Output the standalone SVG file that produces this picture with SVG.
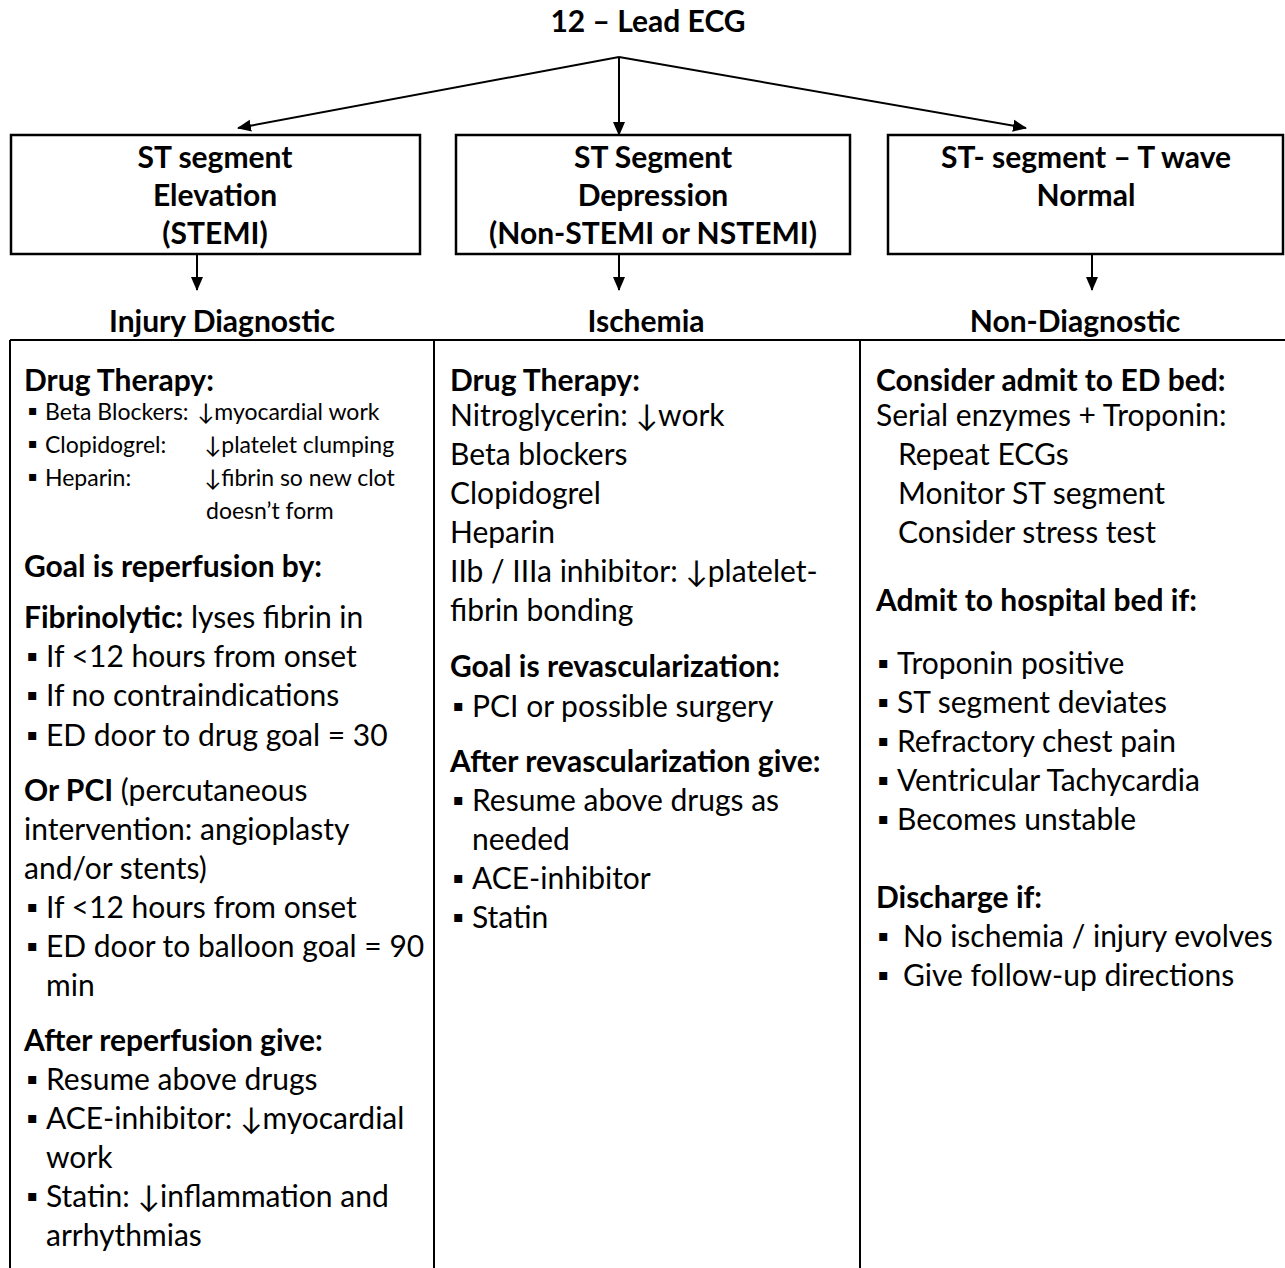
<svg xmlns="http://www.w3.org/2000/svg" width="1285" height="1268" viewBox="0 0 1285 1268">
<style>
text{font-family:Lato,"Liberation Sans",sans-serif;fill:#000;font-size:30px}
.b{font-weight:bold}
.c{text-anchor:middle}
.s{font-size:23px}
.bul{font-family:"DejaVu Sans",sans-serif;font-size:16px}
.bs{font-family:"DejaVu Sans",sans-serif;font-size:14px}
.box{fill:#fff;stroke:#000;stroke-width:2.5}
.ln{stroke:#000;stroke-width:2;fill:none}
</style>
<defs>
<marker id="ah" markerUnits="userSpaceOnUse" markerWidth="14" markerHeight="14" viewBox="0 0 14 14" refX="13" refY="7" orient="auto">
<path d="M0,1 L14,7 L0,13 Z" fill="#000"/>
</marker>
</defs>
<rect width="1285" height="1268" fill="#fff"/>

<g id="title"><text class="b c" x="648" y="32">12 – Lead ECG</text></g>

<g id="connectors">
<line class="ln" x1="619" y1="57" x2="238" y2="128" marker-end="url(#ah)"/>
<line class="ln" x1="619" y1="57" x2="619" y2="135" marker-end="url(#ah)"/>
<line class="ln" x1="619" y1="57" x2="1026" y2="128" marker-end="url(#ah)"/>
<line class="ln" x1="197" y1="255" x2="197" y2="290" marker-end="url(#ah)"/>
<line class="ln" x1="619" y1="255" x2="619" y2="290" marker-end="url(#ah)"/>
<line class="ln" x1="1092" y1="255" x2="1092" y2="290" marker-end="url(#ah)"/>
</g>

<g id="box-stemi">
<rect class="box" x="11" y="135" width="409" height="119"/>
<text class="b c" x="215" y="168">ST segment</text>
<text class="b c" x="215" y="206">Elevation</text>
<text class="b c" x="215" y="244">(STEMI)</text>
</g>
<g id="box-nstemi">
<rect class="box" x="456" y="135" width="394" height="119"/>
<text class="b c" x="653" y="168">ST Segment</text>
<text class="b c" x="653" y="206">Depression</text>
<text class="b c" x="653" y="244">(Non-STEMI or NSTEMI)</text>
</g>
<g id="box-normal">
<rect class="box" x="888" y="135" width="395" height="119"/>
<text class="b c" x="1086" y="168">ST- segment – T wave</text>
<text class="b c" x="1086" y="206">Normal</text>
</g>

<g id="label-injury"><text class="b c" x="222" y="332">Injury Diagnostic</text></g>
<g id="label-ischemia"><text class="b c" x="646" y="332">Ischemia</text></g>
<g id="label-nondiag"><text class="b c" x="1075" y="332">Non-Diagnostic</text></g>

<g id="table">
<line class="ln" x1="10" y1="340" x2="1285" y2="340"/>
<line class="ln" x1="10" y1="340" x2="10" y2="1268"/>
<line class="ln" x1="434" y1="340" x2="434" y2="1268"/>
<line class="ln" x1="860" y1="340" x2="860" y2="1268"/>
</g>

<g id="col-injury">
<text class="b" x="24" y="391">Drug Therapy:</text>
<text class="bs" x="28" y="415">▪</text><text class="s" x="45" y="420">Beta Blockers:</text><text class="s" x="197" y="420">↓myocardial work</text>
<text class="bs" x="28" y="448">▪</text><text class="s" x="45" y="453">Clopidogrel:</text><text class="s" x="204" y="453">↓platelet clumping</text>
<text class="bs" x="28" y="481">▪</text><text class="s" x="45" y="486">Heparin:</text><text class="s" x="204" y="486">↓fibrin so new clot</text>
<text class="s" x="206" y="519">doesn’t form</text>
<text class="b" x="24" y="577">Goal is reperfusion by:</text>
<text x="24" y="628"><tspan class="b">Fibrinolytic:</tspan> lyses fibrin in</text>
<text class="bul" x="27" y="661">▪</text><text x="46" y="667">If &lt;12 hours from onset</text>
<text class="bul" x="27" y="700">▪</text><text x="46" y="706">If no contraindications</text>
<text class="bul" x="27" y="740">▪</text><text x="46" y="746">ED door to drug goal = 30</text>
<text x="24" y="801"><tspan class="b">Or PCI</tspan> (percutaneous</text>
<text x="24" y="840">intervention: angioplasty</text>
<text x="24" y="879">and/or stents)</text>
<text class="bul" x="27" y="912">▪</text><text x="46" y="918">If &lt;12 hours from onset</text>
<text class="bul" x="27" y="951">▪</text><text x="46" y="957">ED door to balloon goal = 90</text>
<text x="46" y="996">min</text>
<text class="b" x="24" y="1051">After reperfusion give:</text>
<text class="bul" x="27" y="1084">▪</text><text x="46" y="1090">Resume above drugs</text>
<text class="bul" x="27" y="1123">▪</text><text x="46" y="1129">ACE-inhibitor: ↓myocardial</text>
<text x="46" y="1168">work</text>
<text class="bul" x="27" y="1201">▪</text><text x="46" y="1207">Statin: ↓inflammation and</text>
<text x="46" y="1246">arrhythmias</text>
</g>

<g id="col-ischemia">
<text class="b" x="450" y="391">Drug Therapy:</text>
<text x="450" y="426">Nitroglycerin:  ↓work</text>
<text x="450" y="465">Beta blockers</text>
<text x="450" y="504">Clopidogrel</text>
<text x="450" y="543">Heparin</text>
<text x="450" y="582">IIb / IIIa inhibitor:  ↓platelet-</text>
<text x="450" y="621">fibrin bonding</text>
<text class="b" x="450" y="677">Goal is revascularization:</text>
<text class="bul" x="453" y="711">▪</text><text x="472" y="717">PCI or possible surgery</text>
<text class="b" x="450" y="772">After revascularization give:</text>
<text class="bul" x="453" y="805">▪</text><text x="472" y="811">Resume above drugs as</text>
<text x="472" y="850">needed</text>
<text class="bul" x="453" y="883">▪</text><text x="472" y="889">ACE-inhibitor</text>
<text class="bul" x="453" y="922">▪</text><text x="472" y="928">Statin</text>
</g>

<g id="col-nondiag">
<text class="b" x="876" y="391">Consider admit to ED bed:</text>
<text x="876" y="426">Serial enzymes + Troponin:</text>
<text x="898" y="465">Repeat ECGs</text>
<text x="898" y="504">Monitor ST segment</text>
<text x="898" y="543">Consider stress test</text>
<text class="b" x="876" y="611">Admit to hospital bed if:</text>
<text class="bul" x="878" y="668">▪</text><text x="897" y="674">Troponin positive</text>
<text class="bul" x="878" y="707">▪</text><text x="897" y="713">ST segment deviates</text>
<text class="bul" x="878" y="746">▪</text><text x="897" y="752">Refractory chest pain</text>
<text class="bul" x="878" y="785">▪</text><text x="897" y="791">Ventricular Tachycardia</text>
<text class="bul" x="878" y="824">▪</text><text x="897" y="830">Becomes unstable</text>
<text class="b" x="876" y="908">Discharge if:</text>
<text class="bul" x="878" y="941">▪</text><text x="903" y="947">No ischemia / injury evolves</text>
<text class="bul" x="878" y="980">▪</text><text x="903" y="986">Give follow-up directions</text>
</g>
</svg>
